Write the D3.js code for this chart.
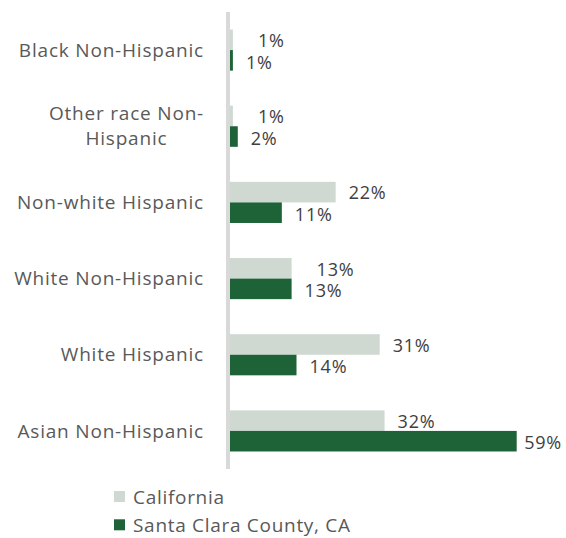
<!DOCTYPE html>
<html>
<head>
<meta charset="utf-8">
<script src="https://cdn.jsdelivr.net/npm/d3@7"></script>
<style>
  body { margin: 0; background: #fff; }
  text { font-family: "Open Sans", "Noto Sans", sans-serif; }
</style>
</head>
<body>
<script>
// categories, top to bottom
const categories = ["Black Non-Hispanic", "Other race Non-Hispanic", "Non-white Hispanic",
                    "White Non-Hispanic", "White  Hispanic", "Asian Non-Hispanic"];
const seriesNames = ["California", "Santa Clara County, CA"];
// percentages
const californiaVals = [1, 1, 22, 13, 31, 32];
const santaClaraVals = [1, 2, 11, 13, 14, 59];
const colors = ["#cfd9d1", "#1e6338"];

const width = 566, height = 538;
const x0 = 228;

const svg = d3.select("body").append("svg")
    .attr("width", width)
    .attr("height", height);

// scales
var x = d3.scaleLinear()
    .domain([0, 59])
    .range([x0, 516.7]);

var y = d3.scaleBand()
    .domain(categories)
    .range([12, 469])
    .paddingInner(0.46)
    .paddingOuter(0.23);

var ySub = d3.scaleBand()
    .domain(seriesNames)
    .range([0, y.bandwidth()]);

var rows = categories.map((c, i) => ({
  cat: c,
  vals: [
    {s: seriesNames[0], v: californiaVals[i], c: colors[0], dy: 1},
    {s: seriesNames[1], v: santaClaraVals[i], c: colors[1], dy: 2}
  ]
}));

var groups = svg.selectAll("g.cat")
  .data(rows)
  .enter().append("g")
    .attr("class", "cat")
    .attr("transform", d => "translate(0," + y(d.cat) + ")");

groups.selectAll("rect")
  .data(d => d.vals)
  .enter().append("rect")
    .attr("x", x(0))
    .attr("y", d => ySub(d.s))
    .attr("width", d => x(d.v) - x(0))
    .attr("height", ySub.bandwidth())
    .style("fill", d => d.c);

// value labels, pulled in if they would run off the right edge;
// the upper label is nudged right when both bars are about the same length
groups.each(function(row) {
  var near = Math.abs(x(row.vals[0].v) - x(row.vals[1].v)) < 8;
  d3.select(this).selectAll("text.val")
    .data(row.vals)
    .enter().append("text")
      .attr("class", "val")
      .attr("y", d => ySub(d.s) + ySub.bandwidth() / 2 + d.dy)
      .attr("dy", "0.35em")
      .style("font-size", "18px")
      .style("letter-spacing", "0.8px")
      .style("fill", "#404040")
      .text(d => d.v + "%")
      .attr("x", function(d, i) {
        var w = this.getComputedTextLength();
        var shift = (near && i === 0) ? 12 : 0;
        return Math.min(x(d.v) + 13 + shift, width - w - 4);
      });
});

// vertical axis line
svg.append("line")
    .attr("x1", x0).attr("x2", x0)
    .attr("y1", 12).attr("y2", 469)
    .style("stroke", "#d9d9d9")
    .style("stroke-width", 4);

// category labels, wrapped if too long
var labelRight = 204, maxW = 200;
groups.each(function(d) {
  var g = d3.select(this);
  var t = g.append("text")
      .style("font-size", "19px")
      .style("letter-spacing", "0.8px")
      .style("fill", "#595959");
  var words = d.cat.replace(/-/g, "-\u0000").split(/\u0000| (?! )/);
  var lines = [], cur = "";
  words.forEach(w => {
    var test = cur ? (cur.endsWith("-") ? cur + w : cur + " " + w) : w;
    t.text(test);
    if (t.node().getComputedTextLength() > maxW && cur) {
      lines.push(cur);
      cur = w;
    } else {
      cur = test;
    }
  });
  lines.push(cur);
  t.text(null);
  var widths = lines.map(l => { t.text(l); return t.node().getComputedTextLength(); });
  t.text(null);
  var mid = y.bandwidth() / 2;
  if (lines.length === 1) {
    t.attr("x", labelRight).attr("y", mid).attr("dy", "0.35em")
      .attr("text-anchor", "end").text(lines[0]);
  } else {
    var cx = labelRight - d3.max(widths) / 2;
    t.attr("text-anchor", "middle");
    lines.forEach((l, i) => {
      t.append("tspan")
        .attr("x", cx)
        .attr("y", mid + (i - (lines.length - 1) / 2) * 25)
        .attr("dy", "0.35em")
        .text(l);
    });
  }
});

// legend
var legend = svg.selectAll("g.legend")
  .data(seriesNames)
  .enter().append("g")
    .attr("class", "legend")
    .attr("transform", (d, i) => "translate(114," + (491 + i * 28.3) + ")");

legend.append("rect")
    .attr("width", 11)
    .attr("height", 11)
    .style("fill", (d, i) => colors[i]);

legend.append("text")
    .attr("x", 19)
    .attr("y", 6)
    .attr("dy", "0.35em")
    .style("font-size", "19px")
    .style("letter-spacing", "0.7px")
    .style("fill", "#595959")
    .text(d => d);
</script>
</body>
</html>
